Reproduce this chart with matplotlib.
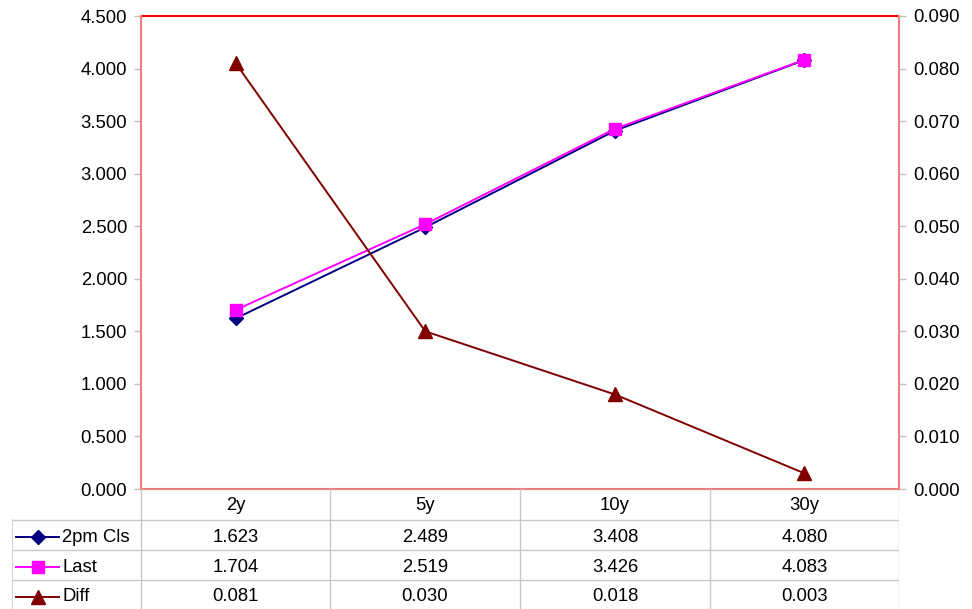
import matplotlib.pyplot as plt
from matplotlib.lines import Line2D
import matplotlib.ticker as ticker

# data
tenors = ["2y", "5y", "10y", "30y"]
close_2pm = [1.623, 2.489, 3.408, 4.080]
last = [1.704, 2.519, 3.426, 4.083]
diff = [0.081, 0.030, 0.018, 0.003]
series_names = ["2pm Cls", "Last", "Diff"]

FS = 13.3
plt.rcParams["font.family"] = ["Liberation Sans", "DejaVu Sans"]
plt.rcParams["font.size"] = FS

W, H = 972, 609
fig = plt.figure(figsize=(W / 100, H / 100), dpi=100)

# plot area in pixels
px0, px1, py0, py1 = 141, 899, 16, 489
ax = fig.add_axes([px0 / W, 1 - py1 / H, (px1 - px0) / W, (py1 - py0) / H])
ax2 = ax.twinx()

x = list(range(len(tenors)))
ax.plot(x, close_2pm, color="#000080", marker="D", markersize=7, lw=1.4, zorder=3)
ax.plot(x, last, color="#ff00ff", marker="s", markersize=9, lw=1.4, zorder=4)
ax2.plot(x, diff, color="#800000", marker="^", markersize=9.5, lw=1.4)

ax.set_xlim(-0.5, len(tenors) - 0.5)
ax.set_ylim(0, 4.5)
ax2.set_ylim(0, 0.09)
ax.yaxis.set_major_locator(ticker.MultipleLocator(0.5))
ax2.yaxis.set_major_locator(ticker.MultipleLocator(0.01))
ax.yaxis.set_major_formatter(ticker.FormatStrFormatter("%.3f"))
ax2.yaxis.set_major_formatter(ticker.FormatStrFormatter("%.3f"))
ax.set_xticks([])

for a in (ax, ax2):
    a.tick_params(axis="y", length=5, width=1, color="#c0c0c0", pad=5, labelsize=FS)
    for s in a.spines.values():
        s.set_visible(False)

# plot area border
ax.plot([0, 1], [1, 1], transform=ax.transAxes, color="#ff0000", lw=1.5, clip_on=False, zorder=5)
for xs, ys in [([0, 0], [0, 1]), ([1, 1], [0, 1]), ([0, 1], [0, 0])]:
    ax.plot(xs, ys, transform=ax.transAxes, color="#ec8080", lw=1.5, clip_on=False, zorder=5)

# data table below the plot
tx0, tx1, ty0, ty1 = 12, 899, 489, 609
tab = fig.add_axes([tx0 / W, 1 - ty1 / H, (tx1 - tx0) / W, (ty1 - ty0) / H])
tab.set_xlim(tx0, tx1)
tab.set_ylim(ty1, ty0)
tab.axis("off")

grid = "#c8c8c8"
col_edges = [141, 330, 520, 710, 899]
row_edges = [489, 520, 550, 580, 609]
for cx in col_edges:
    tab.plot([cx, cx], [row_edges[0], row_edges[-1]], color=grid, lw=1)
tab.plot([tx0, tx0], [row_edges[1], row_edges[-1]], color=grid, lw=1.2)
for ry in row_edges[1:4]:
    tab.plot([tx0, tx1], [ry, ry], color=grid, lw=1)

centers = [(col_edges[i] + col_edges[i + 1]) / 2 for i in range(len(tenors))]
for cx, lab in zip(centers, tenors):
    tab.text(cx, 506, lab, ha="center", va="center", fontsize=FS)

rows = [close_2pm, last, diff]
styles = [("#000080", "D", 7), ("#ff00ff", "s", 9), ("#800000", "^", 9.5)]
for i, (name, vals, (c, m, ms)) in enumerate(zip(series_names, rows, styles)):
    yc = (row_edges[i + 1] + row_edges[i + 2]) / 2 + 2
    tab.add_line(Line2D([16, 59], [yc, yc], color=c, lw=1.4))
    tab.add_line(Line2D([37.5], [yc], color=c, marker=m, markersize=ms))
    tab.text(62, yc, name, ha="left", va="center", fontsize=FS)
    for cx, v in zip(centers, vals):
        tab.text(cx, yc, f"{v:.3f}", ha="center", va="center", fontsize=FS)

plt.savefig("out.png", dpi=100)
